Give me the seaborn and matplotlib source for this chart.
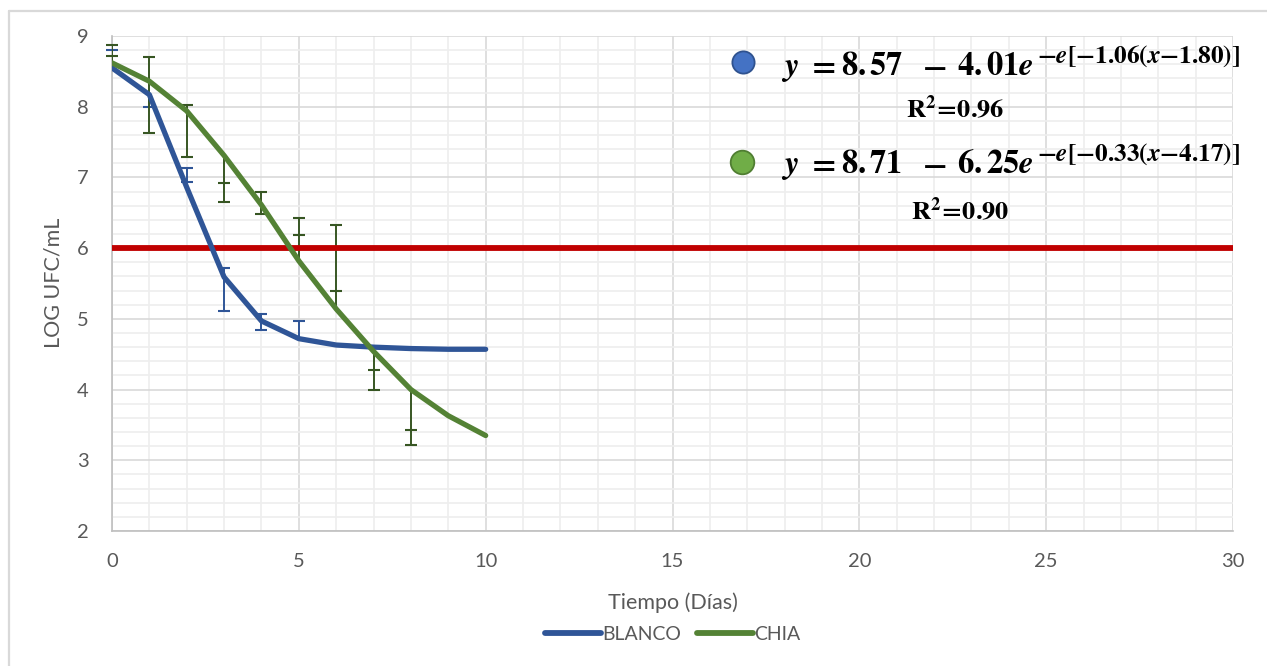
import numpy as np
import pandas as pd
import matplotlib
matplotlib.use("Agg")
import matplotlib.pyplot as plt
from matplotlib.lines import Line2D
from matplotlib.ticker import MultipleLocator
import seaborn as sns

# ---------------- data ----------------
days = [0, 1, 2, 3, 4, 5, 6, 7, 8, 9, 10]
blanco = [8.55, 8.17, 6.86, 5.59, 4.97, 4.72, 4.63, 4.60, 4.58, 4.57, 4.57]
chia = [8.62, 8.36, 7.94, 7.31, 6.61, 5.82, 5.14, 4.54, 4.00, 3.63, 3.35]

# error bar segments (low / high ends) and cap positions
blanco_err_x = [0, 1, 2, 3, 4, 5]
blanco_err_lo = [8.55, 8.00, 6.94, 5.11, 4.84, 4.72]
blanco_err_hi = [8.80, 8.17, 7.13, 5.72, 5.07, 4.97]
blanco_cap_x = [0, 1, 2, 2, 3, 3, 4, 4, 5]
blanco_cap_y = [8.80, 8.00, 7.13, 6.94, 5.72, 5.11, 5.07, 4.84, 4.97]

chia_err_x = [0, 1, 2, 3, 4, 5, 6, 7, 8]
chia_err_lo = [8.62, 7.63, 7.29, 6.65, 6.48, 5.82, 5.14, 4.00, 3.21]
chia_err_hi = [8.87, 8.70, 8.03, 7.31, 6.79, 6.43, 6.33, 4.54, 3.98]
chia_cap_x = [0, 0, 1, 1, 2, 2, 3, 3, 4, 4, 5, 5, 6, 6, 7, 7, 8, 8]
chia_cap_y = [8.87, 8.72, 8.70, 7.63, 8.03, 7.29, 6.92, 6.65, 6.79, 6.48,
              6.43, 6.18, 6.33, 5.39, 4.28, 4.00, 3.43, 3.21]

limit_value = 6.0
series_names = ["BLANCO", "CHIA"]

# equation pieces: y = A - B e^{-e[-k(x - c)]}
eq_blanco_parts = [r"$\mathbfit{y}$", r"$\mathbf{=}$", r"$\mathbf{8.}$", r"$\mathbf{57}$",
                   r"$\mathbf{-}$", r"$\mathbf{4.}$", r"$\mathbf{01}$", r"$\mathbfit{e}$",
                   r"$\mathbf{-}\mathbfit{e}\mathbf{[-1.06(}\mathbfit{x}\mathbf{-1.80)]}$"]
eq_chia_parts = [r"$\mathbfit{y}$", r"$\mathbf{=}$", r"$\mathbf{8.}$", r"$\mathbf{71}$",
                 r"$\mathbf{-}$", r"$\mathbf{6.}$", r"$\mathbf{25}$", r"$\mathbfit{e}$",
                 r"$\mathbf{-}\mathbfit{e}\mathbf{[-0.33(}\mathbfit{x}\mathbf{-4.17)]}$"]
r2_blanco = r"$\mathbf{R^2\!=\!0.96}$"
r2_chia = r"$\mathbf{R^2\!=\!0.90}$"

# ---------------- style ----------------
sns.set_theme(style="white")
plt.rcParams["font.family"] = ["Lato", "DejaVu Sans"]
plt.rcParams["mathtext.fontset"] = "stix"

BLUE = "#2F5597"
GREEN = "#548235"
DKGREEN = "#375623"
RED = "#C00000"
TXT = "#595959"

W, H = 1267, 666
fig = plt.figure(figsize=(W / 100, H / 100), dpi=100)
ax = fig.add_axes([112 / W, 1 - 531 / H, (1233 - 112) / W, (531 - 36) / H])

df = pd.DataFrame({
    "Tiempo": days * 2,
    "LOG": blanco + chia,
    "Serie": [series_names[0]] * len(days) + [series_names[1]] * len(days),
})

# grid
ax.set_xlim(0, 30)
ax.set_ylim(2, 9)
ax.xaxis.set_major_locator(MultipleLocator(5))
ax.xaxis.set_minor_locator(MultipleLocator(1))
ax.yaxis.set_major_locator(MultipleLocator(1))
ax.yaxis.set_minor_locator(MultipleLocator(0.2))
ax.grid(which="major", color="#d9d9d9", lw=1.2, zorder=0)
ax.grid(which="minor", color="#eeeeee", lw=1.2, zorder=0)
ax.set_axisbelow(True)

# error bars
ax.vlines(blanco_err_x, blanco_err_lo, blanco_err_hi, color=BLUE, lw=1.4, zorder=3)
ax.plot(blanco_cap_x, blanco_cap_y, ls="none", marker="_", ms=9, mew=1.5,
        color=BLUE, zorder=3, clip_on=False)
ax.vlines(chia_err_x, chia_err_lo, chia_err_hi, color=DKGREEN, lw=1.4, zorder=3)
ax.plot(chia_cap_x, chia_cap_y, ls="none", marker="_", ms=9, mew=1.5,
        color=DKGREEN, zorder=3, clip_on=False)

# limit line
ax.axhline(limit_value, color=RED, lw=4.2, zorder=4)

# curves
sns.lineplot(data=df, x="Tiempo", y="LOG", hue="Serie",
             palette={series_names[0]: BLUE, series_names[1]: GREEN},
             lw=3.8, ax=ax, zorder=5, legend=True)

# axes cosmetics
for s in ["top", "right"]:
    ax.spines[s].set_visible(False)
for s in ["left", "bottom"]:
    ax.spines[s].set_color("#bfbfbf")
    ax.spines[s].set_linewidth(1.2)
ax.tick_params(axis="both", length=0, labelsize=14.5, labelcolor=TXT)
ax.tick_params(axis="y", pad=17)
ax.tick_params(axis="x", pad=16)
ax.set_xlabel("Tiempo (Días)", fontsize=15.5, color=TXT, labelpad=16)
ax.set_ylabel("")


def fx(px):
    return px / W


def fy(py):
    return 1 - py / H


fig.text(fx(54), fy(283), "LOG UFC/mL", rotation=90, fontsize=15.5, color=TXT,
         ha="center", va="center")

leg = ax.legend(loc="center", bbox_to_anchor=(0.5, (531 - 634) / 495), ncol=2,
                frameon=False, fontsize=14, handlelength=2.9, handletextpad=0.05,
                columnspacing=0.8, borderaxespad=0)
for t in leg.get_texts():
    t.set_color(TXT)
for h in leg.get_lines():
    h.set_linewidth(4.2)

# annotation markers & equations
fig.add_artist(Line2D([fx(742.5)], [fy(62)], marker="o", ms=16, mfc="#4472C4",
                      mec="#2F528F", mew=1.3, transform=fig.transFigure))
fig.add_artist(Line2D([fx(741.5)], [fy(162)], marker="o", ms=17, mfc="#70AD47",
                      mec="#507E32", mew=1.3, transform=fig.transFigure))

piece_x = [781, 807, 841, 869, 922, 957, 986, 1018, 1037]


def draw_equation(parts, baseline):
    for i, (px, s) in enumerate(zip(piece_x, parts)):
        if i < len(parts) - 1:
            fig.text(fx(px), fy(baseline), s, fontsize=23.5, color="black",
                     va="baseline", ha="left")
        else:
            fig.text(fx(px), fy(baseline - 12), s, fontsize=18.2, color="black",
                     va="baseline", ha="left")


draw_equation(eq_blanco_parts, 75)
draw_equation(eq_chia_parts, 173)

fig.text(fx(955), fy(118), r2_blanco, fontsize=19, color="black",
         va="baseline", ha="center")
fig.text(fx(960), fy(220), r2_chia, fontsize=19, color="black",
         va="baseline", ha="center")

# outer frame (left and top edges visible)
fig.add_artist(Line2D([fx(9), fx(9)], [fy(11), 0], color="#d9d9d9", lw=1.6,
                      transform=fig.transFigure))
fig.add_artist(Line2D([fx(9), 1], [fy(11), fy(11)], color="#d9d9d9", lw=1.6,
                      transform=fig.transFigure))

fig.savefig("out.png", dpi=100, facecolor="white")
